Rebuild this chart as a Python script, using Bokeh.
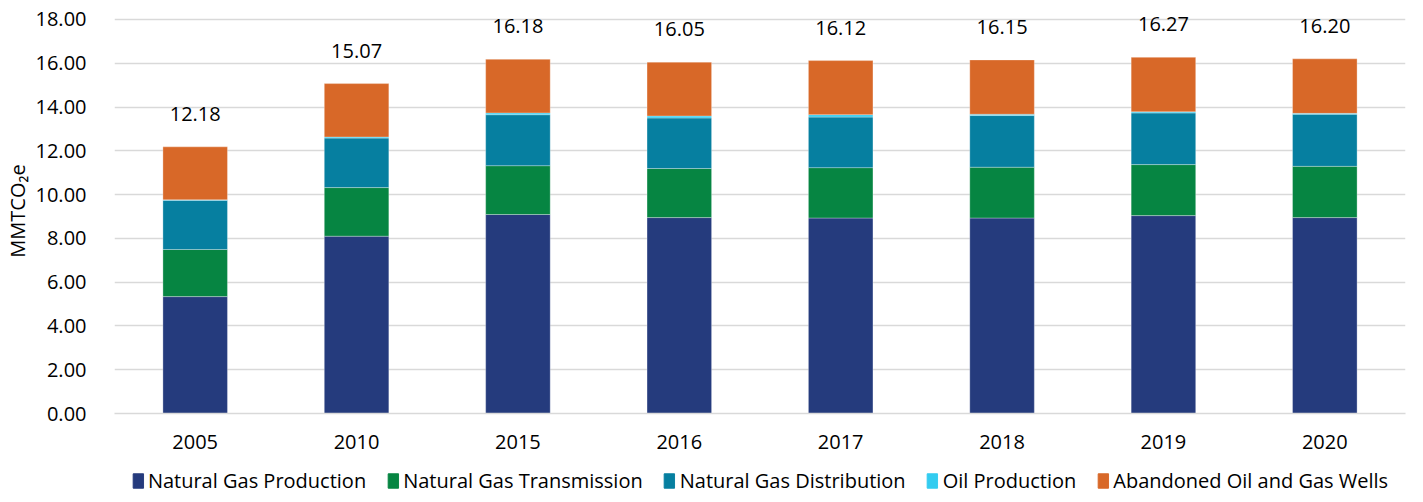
from bokeh.plotting import figure
from bokeh.layouts import column
from bokeh.models import ColumnDataSource, Legend, LegendItem, NumeralTickFormatter, FixedTicker, Range1d
from bokeh.core.properties import value
from bokeh.embed import file_html
from bokeh.resources import INLINE

years = ["2005", "2010", "2015", "2016", "2017", "2018", "2019", "2020"]
ng_production = [5.34, 8.10, 9.09, 8.95, 8.93, 8.93, 9.04, 8.95]
ng_transmission = [2.15, 2.22, 2.23, 2.24, 2.30, 2.32, 2.33, 2.34]
ng_distribution = [2.25, 2.26, 2.33, 2.31, 2.31, 2.36, 2.36, 2.38]
oil_production = [0.02, 0.05, 0.08, 0.09, 0.11, 0.06, 0.05, 0.04]
abandoned_wells = [2.42, 2.44, 2.45, 2.46, 2.47, 2.48, 2.49, 2.49]
totals = [12.18, 15.07, 16.18, 16.05, 16.12, 16.15, 16.27, 16.20]
total_labels = ["12.18", "15.07", "16.18", "16.05", "16.12", "16.15", "16.27", "16.20"]

series = ["Natural Gas Production", "Natural Gas Transmission", "Natural Gas Distribution",
          "Oil Production", "Abandoned Oil and Gas Wells"]
keys = ["prod", "trans", "dist", "oil", "aband"]
colors = ["#253B7D", "#068542", "#067FA0", "#33CCF0", "#D86828"]

FONT = "Open Sans"

source = ColumnDataSource(dict(years=years, prod=ng_production, trans=ng_transmission,
                               dist=ng_distribution, oil=oil_production, aband=abandoned_wells))
label_src = ColumnDataSource(dict(years=years, totals=totals, labels=total_labels))

p = figure(x_range=years, y_range=Range1d(0, 18.5), width=1407, height=466,
           output_backend="svg", toolbar_location=None,
           min_border_top=8, min_border_left=106, min_border_right=2, min_border_bottom=53)

renderers = p.vbar_stack(keys, x="years", width=0.4, color=colors, source=source,
                         line_color="white", line_width=0.6, line_alpha=0.5)

p.text(x="years", y="totals", text="labels", source=label_src,
       text_align="center", text_baseline="bottom", y_offset=-26,
       text_font=value(FONT), text_font_size="20px", text_color="#000000")

p.outline_line_color = None
p.xgrid.grid_line_color = None
p.ygrid.grid_line_color = "#D9D9D9"
p.ygrid.grid_line_width = 1.5

p.yaxis.ticker = FixedTicker(ticks=[0, 2, 4, 6, 8, 10, 12, 14, 16, 18])
p.yaxis.formatter = NumeralTickFormatter(format="0.00")
p.yaxis.axis_line_color = None
p.yaxis.major_tick_line_color = None
p.yaxis.minor_tick_line_color = None
p.yaxis.major_label_text_font = FONT
p.yaxis.major_label_text_font_size = "20px"
p.yaxis.major_label_text_color = "#000000"
p.yaxis.major_label_standoff = 22
p.yaxis.axis_label = "MMTCO₂e"
p.yaxis.axis_label_text_font = FONT
p.yaxis.axis_label_text_font_size = "20px"
p.yaxis.axis_label_text_font_style = "normal"
p.yaxis.axis_label_text_color = "#000000"
p.yaxis.axis_label_standoff = 2

p.xaxis.axis_line_color = "#D9D9D9"
p.xaxis.axis_line_width = 1.5
p.xaxis.major_tick_line_color = None
p.xaxis.minor_tick_line_color = None
p.xaxis.major_label_text_font = FONT
p.xaxis.major_label_text_font_size = "20px"
p.xaxis.major_label_text_color = "#000000"
p.xaxis.major_label_standoff = 15
p.x_range.range_padding = 0.0

# legend strip below the chart
lg = figure(width=1407, height=28, x_range=Range1d(0, 1), y_range=Range1d(0, 1),
            output_backend="svg", toolbar_location=None,
            min_border_top=0, min_border_left=0, min_border_right=0, min_border_bottom=0)
lg.axis.visible = False
lg.grid.visible = False
lg.outline_line_color = None
dummies = [lg.vbar(x=[0.5], top=[-5], bottom=[-6], width=0.1, color=c) for c in colors]
legend = Legend(items=[LegendItem(label=s, renderers=[r]) for s, r in zip(series, dummies)],
                orientation="horizontal", location="center",
                label_text_font=FONT, label_text_font_size="20px", label_text_color="#000000",
                glyph_width=13, glyph_height=18, spacing=20, label_standoff=4,
                border_line_color=None, background_fill_alpha=0, margin=0, padding=2)
lg.add_layout(legend)

layout = column(p, lg, spacing=0)
open("out.html", "w").write(file_html(layout, INLINE))
